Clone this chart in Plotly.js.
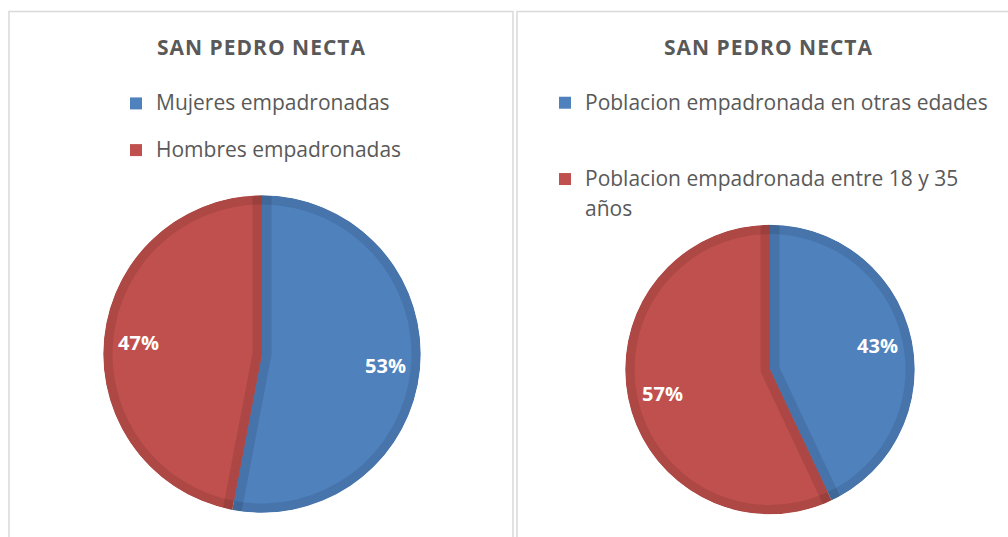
<!DOCTYPE html>
<html>
<head>
<meta charset="utf-8">
<script src="https://cdn.plot.ly/plotly-3.0.1.min.js"></script>
<style>
  html, body { margin: 0; padding: 0; background: #fff; }
  #chart { width: 1008px; height: 537px; }
  .annotation-text { letter-spacing: 1px; }
  .slice path { stroke-linejoin: round; }
</style>
</head>
<body>
<div id="chart"></div>
<script>
// ---- data ----
const chartTitle = "SAN PEDRO NECTA";

const leftLabels = ["Mujeres empadronadas", "Hombres empadronadas"];
const leftValues = [53, 47];

const rightLabels = ["Poblacion empadronada en otras edades", "Poblacion empadronada entre 18 y 35<br>años"];
const rightValues = [43, 57];

// ---- styles ----
const fillColors = ["#4F81BD", "#C0504D"];
const edgeColors = ["#4774AA", "#AD4845"];
const edgeShade = "rgba(0,0,0,0.10)";
const textGray = "#595959";
const W = 1008, H = 537;
const BORDER = 9.5;

function legendLabel(lbl, extraLines) {
  const parts = lbl.split("<br>");
  const body = parts.map((p, i) => i === 0
      ? '<span style="font-size:21px">' + p + '</span>'
      : '<span style="font-size:21px;baseline-shift:-5px">' + p + '</span>').join("<br>");
  return body + '<br> '.repeat(extraLines);
}

// pie centre/radius in px -> domain (clamped to the paper)
function dom(cx, cy, r) {
  const c = v => Math.max(0, Math.min(1, v));
  return { x: [c((cx - r) / W), c((cx + r) / W)], y: [c((H - cy - r) / H), c((H - cy + r) / H)] };
}

function pieSet(labels, values, cx, cy, R, textHole, legendId, extra) {
  const common = { type: "pie", values: values, sort: false, direction: "clockwise", rotation: 0,
                   textinfo: "none", hoverinfo: "skip" };
  const transparent = values.map(() => "rgba(0,0,0,0)");
  const maxR = Math.min(cx, W - cx, cy, H - cy);
  const maskR = maxR;                 // white ring hiding the outer part of the boundary strokes
  const edgeR = maskR - BORDER - 1.5; // boundary-stroke pie, its arc stays under the mask
  // dark base disc (outer border ring)
  const base = Object.assign({}, common, {
    labels: labels, showlegend: false,
    marker: { colors: edgeColors, line: { width: 0 } },
    domain: dom(cx, cy, R)
  });
  // light slices, inset by the border width
  const main = Object.assign({}, common, {
    labels: labels.map((l, i) => legendLabel(l, extra[i])),
    marker: { colors: fillColors, line: { width: 0 } },
    domain: dom(cx, cy, R - BORDER),
    legend: legendId
  });
  // shaded band along the slice boundaries
  const edges = Object.assign({}, common, {
    labels: labels, showlegend: false,
    marker: { colors: transparent, line: { color: edgeShade, width: values.map((v, i) => i === values.length - 1 ? 2 * BORDER : 0) } },
    domain: dom(cx, cy, edgeR)
  });
  const mask = {
    type: "pie", labels: ["mask-" + legendId], values: [1], sort: false, showlegend: false,
    marker: { colors: ["#FFFFFF"], line: { width: 0 } },
    hole: (R - 0.3) / maskR,
    textinfo: "none", hoverinfo: "skip",
    domain: dom(cx, cy, maskR)
  };
  const txt = Object.assign({}, common, {
    labels: labels, showlegend: false,
    marker: { colors: transparent, line: { width: 0 } },
    hole: textHole,
    textinfo: "percent", textposition: "inside", insidetextorientation: "horizontal",
    textfont: { family: "Open Sans", size: 20, color: "#FFFFFF", weight: 700 },
    domain: dom(cx, cy, R)
  });
  return [base, main, edges, mask, txt];
}

const traces = [
  ...pieSet(leftLabels, leftValues, 262, 354, 159, 0.56, "legend", [1, 1]),
  ...pieSet(rightLabels, rightValues, 770, 369.5, 145, 0.52, "legend2", [2, 0])
];

const layout = {
  width: W,
  height: H,
  margin: { l: 0, r: 0, t: 0, b: 0 },
  paper_bgcolor: "#FFFFFF",
  font: { family: "Open Sans", color: textGray },
  showlegend: true,
  legend: {
    x: 116 / W, y: 1 - 86 / H, xanchor: "left", yanchor: "top",
    font: { family: "Open Sans", size: 16.8, color: textGray },
    valign: "top", bgcolor: "rgba(0,0,0,0)", tracegroupgap: 0
  },
  legend2: {
    x: 545 / W, y: 1 - 84 / H, xanchor: "left", yanchor: "top",
    font: { family: "Open Sans", size: 18.8, color: textGray },
    valign: "top", bgcolor: "rgba(0,0,0,0)", tracegroupgap: 0
  },
  annotations: [
    { text: "<b>" + chartTitle + "</b>", x: 261 / W, y: 1 - 47 / H, xref: "paper", yref: "paper",
      xanchor: "center", yanchor: "middle", showarrow: false,
      font: { family: "Open Sans", size: 21, color: textGray } },
    { text: "<b>" + chartTitle + "</b>", x: 768 / W, y: 1 - 47 / H, xref: "paper", yref: "paper",
      xanchor: "center", yanchor: "middle", showarrow: false,
      font: { family: "Open Sans", size: 21, color: textGray } }
  ],
  shapes: [
    { type: "rect", xref: "paper", yref: "paper", x0: 9 / W, x1: 513 / W, y0: -0.05, y1: 1 - 11.5 / H,
      line: { color: "#D9D9D9", width: 1.5 }, fillcolor: "rgba(0,0,0,0)", layer: "above" },
    { type: "rect", xref: "paper", yref: "paper", x0: 517 / W, x1: 1.02, y0: -0.05, y1: 1 - 11.5 / H,
      line: { color: "#D9D9D9", width: 1.5 }, fillcolor: "rgba(0,0,0,0)", layer: "above" }
  ]
};

Plotly.newPlot("chart", traces, layout, { displayModeBar: false, staticPlot: true });
</script>
</body>
</html>
